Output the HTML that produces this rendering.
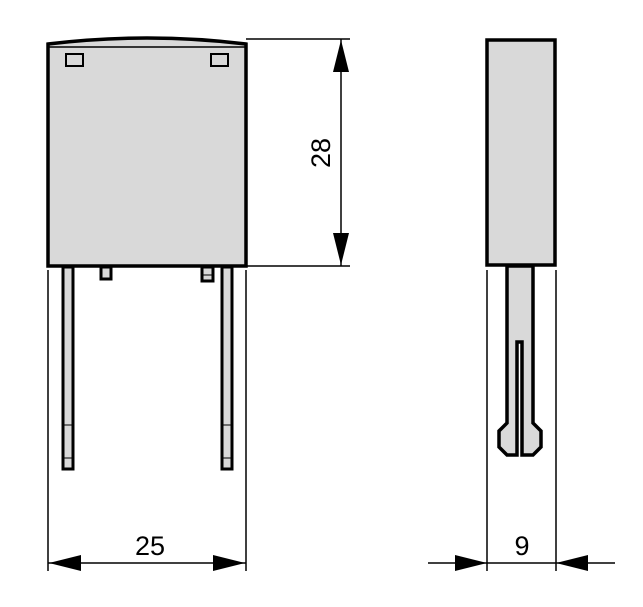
<!DOCTYPE html>
<html><head><style>html,body{margin:0;padding:0;background:#fff}svg{display:block}</style></head>
<body>
<svg width="643" height="607" viewBox="0 0 643 607" xmlns="http://www.w3.org/2000/svg">
<g stroke="#000" fill="#d9d9d9">
<path d="M48,44 Q147,32 246,44 L246,266 L48,266 Z" stroke-width="3.5"/>
<line x1="48" y1="47" x2="246" y2="47" stroke-width="1.5"/>
<rect x="66" y="54" width="17" height="12" stroke-width="2" fill="none"/>
<rect x="211" y="54" width="17" height="12" stroke-width="2" fill="none"/>
<rect x="63" y="267" width="10" height="202" stroke-width="3"/>
<rect x="222" y="267" width="10" height="202" stroke-width="3"/>
<line x1="63" y1="425" x2="73" y2="425" stroke-width="1"/>
<line x1="63" y1="458" x2="73" y2="458" stroke-width="1"/>
<line x1="222" y1="425" x2="232" y2="425" stroke-width="1"/>
<line x1="222" y1="458" x2="232" y2="458" stroke-width="1"/>
<rect x="101" y="267" width="10" height="12" stroke-width="3"/>
<rect x="202" y="267" width="11" height="14" stroke-width="3"/>
<line x1="202" y1="275" x2="213" y2="275" stroke-width="1"/>
<rect x="487" y="40" width="68" height="225" stroke-width="3.5"/>
<path d="M507,266 L507,423 L499,431 L499,447 L507,455 L517,455 L517,342 L522,342 L522,455 L533,455 L541,447 L541,431 L533,423 L533,266 Z" stroke-width="3.5"/>
</g>
<g stroke="#000" stroke-width="1.5" fill="none">
<line x1="246" y1="39" x2="350" y2="39"/>
<line x1="246" y1="266" x2="350" y2="266"/>
<line x1="341" y1="39" x2="341" y2="266"/>
<line x1="48" y1="270" x2="48" y2="571"/>
<line x1="246" y1="270" x2="246" y2="571"/>
<line x1="48" y1="563" x2="246" y2="563"/>
<line x1="487" y1="270" x2="487" y2="571"/>
<line x1="556" y1="270" x2="556" y2="571"/>
<line x1="428" y1="563" x2="615" y2="563"/>
</g>
<g fill="#000">
<polygon points="341,40 333,72 349,72"/>
<polygon points="341,265 333,233 349,233"/>
<polygon points="49,563 81,555 81,571"/>
<polygon points="245,563 213,555 213,571"/>
<polygon points="487,563 455,555 455,571"/>
<polygon points="556,563 588,555 588,571"/>
</g>
<g font-family="Liberation Sans Narrow, Liberation Sans, sans-serif" font-size="27" fill="#000" text-anchor="middle">
<text x="150" y="555">25</text>
<text x="522" y="555">9</text>
<text transform="translate(330,153) rotate(-90)">28</text>
</g>
</svg>
</body></html>
